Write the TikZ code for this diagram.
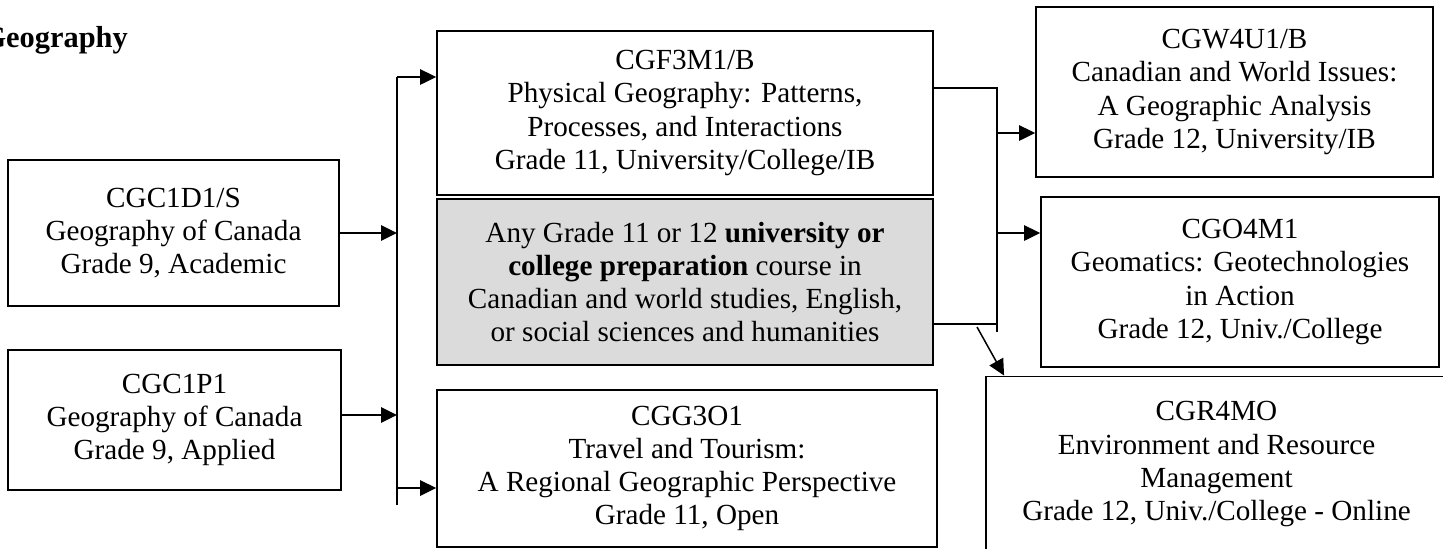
\documentclass[tikz,border=0pt]{standalone}
\usepackage{fontspec}
\setmainfont{Liberation Serif}
\usetikzlibrary{arrows.meta}
\definecolor{boxgray}{gray}{0.86}
\newcommand{\coursefont}{\fontsize{16.6}{18.8}\selectfont}

\begin{document}
\begin{tikzpicture}[x=0.02cm, y=-0.02cm, font=\coursefont,
  course/.style={draw, line width=1.1pt, align=center, inner sep=0pt},
  anycourse/.style={course, fill=boxgray},
  link/.style={line width=0.85pt},
  arr/.style={link, -{Triangle[length=3.2mm, width=3.1mm]}}]

  \useasboundingbox (0,0) rectangle (1443,548);
  \node[font=\fontsize{17.3}{19}\selectfont\bfseries, anchor=base east] (title) at (134,47) {Geography};

  % grade 9
  \node[course, minimum width=6.62cm, minimum height=2.92cm] (cgc1d1) at (173.5,233)
    {CGC1D1/S\\ Geography of Canada\\ Grade 9, Academic};
  \node[course, minimum width=6.66cm, minimum height=2.80cm] (cgc1p1) at (174.5,420)
    {CGC1P1\\ Geography of Canada\\ Grade 9, Applied};

  % grade 11
  \node[course, minimum width=9.92cm, minimum height=3.28cm] (cgf3m1) at (685,113)
    {CGF3M1/B\\ Physical Geography: Patterns,\\ Processes, and Interactions\\ Grade 11, University/College/IB};
  \node[anycourse, minimum width=9.92cm, minimum height=3.32cm] (anyprep) at (685,282)
    {Any Grade 11 or 12 \textbf{university or}\\ \textbf{college preparation} course in\\ Canadian and world studies, English,\\ or social sciences and humanities};
  \node[course, minimum width=10.0cm, minimum height=3.14cm] (cgg3o1) at (687,468.5)
    {CGG3O1\\ Travel and Tourism:\\ A Regional Geographic Perspective\\ Grade 11, Open};

  % grade 12
  \node[course, minimum width=7.94cm, minimum height=3.40cm] (cgw4u1) at (1234.5,92)
    {CGW4U1/B\\ Canadian and World Issues:\\ A Geographic Analysis\\ Grade 12, University/IB};
  \node[course, minimum width=7.96cm, minimum height=3.40cm] (cgo4m1) at (1240,282)
    {CGO4M1\\ Geomatics: Geotechnologies\\ in Action\\ Grade 12, Univ./College};
  \node[course, minimum width=9.22cm, minimum height=3.50cm] (cgr4mo) at (1216.5,464)
    {CGR4MO\\ Environment and Resource\\ Management\\ Grade 12, Univ./College - Online};

  % left trunk
  \coordinate (trunktop) at (397,77);
  \coordinate (trunkbot) at (397,505);
  \coordinate (tofree) at (397,488);
  \draw[link] (trunktop) -- (trunkbot);
  \draw[arr] (cgc1d1.east) -- (cgc1d1.east -| trunktop);
  \draw[arr] ([yshift=0.1cm]cgc1p1.east) -- ([yshift=0.1cm]cgc1p1.east -| trunktop);
  \draw[arr] (trunktop) -- (trunktop -| cgf3m1.west);
  \draw[arr] (tofree) -- (tofree -| cgg3o1.west);

  % right bracket
  \coordinate (brtop) at (997,88);
  \coordinate (brbot) at (997,332);
  \coordinate (brany) at (997,324);
  \coordinate (tow) at (997,133);
  \coordinate (too) at (997,233);
  \coordinate (todiag) at (977,327);
  \draw[link] (brtop -| cgf3m1.east) -- (brtop) -- (brbot);
  \draw[link] (brany -| anyprep.east) -- (brany);
  \draw[arr] (tow) -- (tow -| cgw4u1.west);
  \draw[arr] (too) -- (too -| cgo4m1.west);
  \draw[arr] (todiag) -- ([xshift=0.38cm]cgr4mo.north west);

\end{tikzpicture}
\end{document}
